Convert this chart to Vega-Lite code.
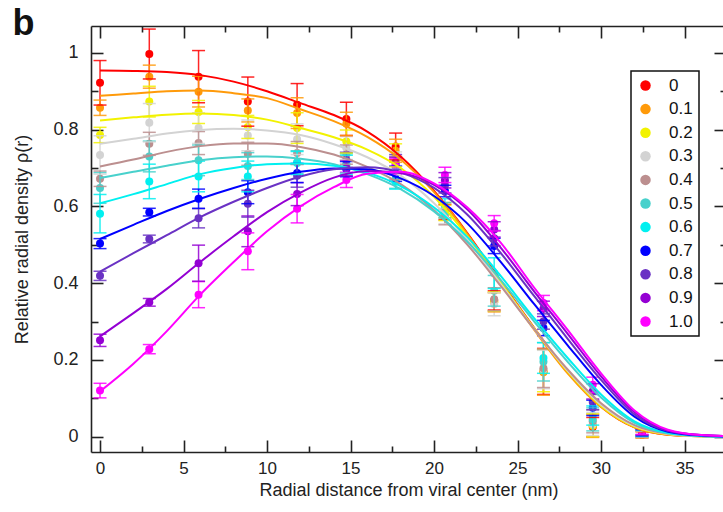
{
  "$schema": "https://vega.github.io/schema/vega-lite/v6.json",
  "width": 632,
  "height": 426,
  "autosize": {"type": "none"},
  "padding": {"left": 91, "top": 26, "right": 0, "bottom": 60},
  "background": "white",
  "datasets": {
    "pts": [
      {"s":"0","r":0,"rho":0.922,"lo":0.864,"hi":0.980},
      {"s":"0","r":2.95,"rho":0.997,"lo":0.932,"hi":1.062},
      {"s":"0","r":5.9,"rho":0.938,"lo":0.870,"hi":1.006},
      {"s":"0","r":8.85,"rho":0.873,"lo":0.809,"hi":0.937},
      {"s":"0","r":11.8,"rho":0.865,"lo":0.810,"hi":0.920},
      {"s":"0","r":14.75,"rho":0.828,"lo":0.785,"hi":0.871},
      {"s":"0","r":17.7,"rho":0.756,"lo":0.721,"hi":0.791},
      {"s":"0","r":20.65,"rho":0.585,"lo":0.565,"hi":0.605},
      {"s":"0","r":23.6,"rho":0.355,"lo":0.330,"hi":0.380},
      {"s":"0","r":26.55,"rho":0.170,"lo":0.110,"hi":0.230},
      {"s":"0","r":29.5,"rho":0.025,"lo":0.000,"hi":0.050},
      {"s":"0","r":32.45,"rho":0.005,"lo":-0.003,"hi":0.013},
      {"s":"0.1","r":0,"rho":0.857,"lo":0.837,"hi":0.877},
      {"s":"0.1","r":2.95,"rho":0.938,"lo":0.908,"hi":0.968},
      {"s":"0.1","r":5.9,"rho":0.899,"lo":0.859,"hi":0.939},
      {"s":"0.1","r":8.85,"rho":0.850,"lo":0.820,"hi":0.880},
      {"s":"0.1","r":11.8,"rho":0.843,"lo":0.803,"hi":0.883},
      {"s":"0.1","r":14.75,"rho":0.815,"lo":0.785,"hi":0.845},
      {"s":"0.1","r":17.7,"rho":0.745,"lo":0.715,"hi":0.775},
      {"s":"0.1","r":20.65,"rho":0.590,"lo":0.570,"hi":0.610},
      {"s":"0.1","r":23.6,"rho":0.350,"lo":0.325,"hi":0.375},
      {"s":"0.1","r":26.55,"rho":0.168,"lo":0.108,"hi":0.228},
      {"s":"0.1","r":29.5,"rho":0.028,"lo":-0.002,"hi":0.058},
      {"s":"0.1","r":32.45,"rho":0.005,"lo":-0.003,"hi":0.013},
      {"s":"0.2","r":0,"rho":0.786,"lo":0.766,"hi":0.806},
      {"s":"0.2","r":2.95,"rho":0.873,"lo":0.833,"hi":0.913},
      {"s":"0.2","r":5.9,"rho":0.846,"lo":0.816,"hi":0.876},
      {"s":"0.2","r":8.85,"rho":0.807,"lo":0.777,"hi":0.837},
      {"s":"0.2","r":11.8,"rho":0.804,"lo":0.764,"hi":0.844},
      {"s":"0.2","r":14.75,"rho":0.769,"lo":0.739,"hi":0.799},
      {"s":"0.2","r":17.7,"rho":0.733,"lo":0.703,"hi":0.763},
      {"s":"0.2","r":20.65,"rho":0.583,"lo":0.563,"hi":0.603},
      {"s":"0.2","r":23.6,"rho":0.352,"lo":0.327,"hi":0.377},
      {"s":"0.2","r":26.55,"rho":0.172,"lo":0.117,"hi":0.227},
      {"s":"0.2","r":29.5,"rho":0.030,"lo":0.000,"hi":0.060},
      {"s":"0.2","r":32.45,"rho":0.006,"lo":-0.002,"hi":0.014},
      {"s":"0.3","r":0,"rho":0.734,"lo":0.684,"hi":0.784},
      {"s":"0.3","r":2.95,"rho":0.818,"lo":0.768,"hi":0.868},
      {"s":"0.3","r":5.9,"rho":0.804,"lo":0.764,"hi":0.844},
      {"s":"0.3","r":8.85,"rho":0.785,"lo":0.745,"hi":0.825},
      {"s":"0.3","r":11.8,"rho":0.775,"lo":0.735,"hi":0.815},
      {"s":"0.3","r":14.75,"rho":0.752,"lo":0.722,"hi":0.782},
      {"s":"0.3","r":17.7,"rho":0.712,"lo":0.682,"hi":0.742},
      {"s":"0.3","r":20.65,"rho":0.575,"lo":0.555,"hi":0.595},
      {"s":"0.3","r":23.6,"rho":0.345,"lo":0.315,"hi":0.375},
      {"s":"0.3","r":26.55,"rho":0.175,"lo":0.125,"hi":0.225},
      {"s":"0.3","r":29.5,"rho":0.033,"lo":0.003,"hi":0.063},
      {"s":"0.3","r":32.45,"rho":0.006,"lo":-0.002,"hi":0.014},
      {"s":"0.4","r":0,"rho":0.672,"lo":0.652,"hi":0.692},
      {"s":"0.4","r":2.95,"rho":0.763,"lo":0.733,"hi":0.793},
      {"s":"0.4","r":5.9,"rho":0.765,"lo":0.735,"hi":0.795},
      {"s":"0.4","r":8.85,"rho":0.737,"lo":0.707,"hi":0.767},
      {"s":"0.4","r":11.8,"rho":0.739,"lo":0.709,"hi":0.769},
      {"s":"0.4","r":14.75,"rho":0.735,"lo":0.710,"hi":0.760},
      {"s":"0.4","r":17.7,"rho":0.700,"lo":0.670,"hi":0.730},
      {"s":"0.4","r":20.65,"rho":0.572,"lo":0.552,"hi":0.592},
      {"s":"0.4","r":23.6,"rho":0.358,"lo":0.328,"hi":0.388},
      {"s":"0.4","r":26.55,"rho":0.178,"lo":0.128,"hi":0.228},
      {"s":"0.4","r":29.5,"rho":0.040,"lo":0.010,"hi":0.070},
      {"s":"0.4","r":32.45,"rho":0.007,"lo":-0.001,"hi":0.015},
      {"s":"0.5","r":0,"rho":0.648,"lo":0.608,"hi":0.688},
      {"s":"0.5","r":2.95,"rho":0.730,"lo":0.690,"hi":0.770},
      {"s":"0.5","r":5.9,"rho":0.720,"lo":0.680,"hi":0.760},
      {"s":"0.5","r":8.85,"rho":0.705,"lo":0.670,"hi":0.740},
      {"s":"0.5","r":11.8,"rho":0.715,"lo":0.685,"hi":0.745},
      {"s":"0.5","r":14.75,"rho":0.712,"lo":0.687,"hi":0.737},
      {"s":"0.5","r":17.7,"rho":0.672,"lo":0.647,"hi":0.697},
      {"s":"0.5","r":20.65,"rho":0.590,"lo":0.570,"hi":0.610},
      {"s":"0.5","r":23.6,"rho":0.380,"lo":0.340,"hi":0.420},
      {"s":"0.5","r":26.55,"rho":0.195,"lo":0.145,"hi":0.245},
      {"s":"0.5","r":29.5,"rho":0.045,"lo":0.015,"hi":0.075},
      {"s":"0.5","r":32.45,"rho":0.008,"lo":0.000,"hi":0.016},
      {"s":"0.6","r":0,"rho":0.581,"lo":0.531,"hi":0.631},
      {"s":"0.6","r":2.95,"rho":0.665,"lo":0.620,"hi":0.710},
      {"s":"0.6","r":5.9,"rho":0.678,"lo":0.638,"hi":0.718},
      {"s":"0.6","r":8.85,"rho":0.678,"lo":0.638,"hi":0.718},
      {"s":"0.6","r":11.8,"rho":0.713,"lo":0.683,"hi":0.743},
      {"s":"0.6","r":14.75,"rho":0.708,"lo":0.683,"hi":0.733},
      {"s":"0.6","r":17.7,"rho":0.665,"lo":0.645,"hi":0.685},
      {"s":"0.6","r":20.65,"rho":0.600,"lo":0.580,"hi":0.620},
      {"s":"0.6","r":23.6,"rho":0.426,"lo":0.386,"hi":0.466},
      {"s":"0.6","r":26.55,"rho":0.205,"lo":0.165,"hi":0.245},
      {"s":"0.6","r":29.5,"rho":0.055,"lo":0.030,"hi":0.080},
      {"s":"0.6","r":32.45,"rho":0.009,"lo":0.001,"hi":0.017},
      {"s":"0.7","r":0,"rho":0.503,"lo":0.490,"hi":0.516},
      {"s":"0.7","r":2.95,"rho":0.585,"lo":0.575,"hi":0.595},
      {"s":"0.7","r":5.9,"rho":0.620,"lo":0.595,"hi":0.645},
      {"s":"0.7","r":8.85,"rho":0.637,"lo":0.607,"hi":0.667},
      {"s":"0.7","r":11.8,"rho":0.687,"lo":0.662,"hi":0.712},
      {"s":"0.7","r":14.75,"rho":0.697,"lo":0.677,"hi":0.717},
      {"s":"0.7","r":17.7,"rho":0.685,"lo":0.665,"hi":0.705},
      {"s":"0.7","r":20.65,"rho":0.640,"lo":0.625,"hi":0.655},
      {"s":"0.7","r":23.6,"rho":0.497,"lo":0.477,"hi":0.517},
      {"s":"0.7","r":26.55,"rho":0.283,"lo":0.263,"hi":0.303},
      {"s":"0.7","r":29.5,"rho":0.075,"lo":0.055,"hi":0.095},
      {"s":"0.7","r":32.45,"rho":0.010,"lo":0.002,"hi":0.018},
      {"s":"0.8","r":0,"rho":0.419,"lo":0.407,"hi":0.431},
      {"s":"0.8","r":2.95,"rho":0.515,"lo":0.505,"hi":0.525},
      {"s":"0.8","r":5.9,"rho":0.569,"lo":0.544,"hi":0.594},
      {"s":"0.8","r":8.85,"rho":0.607,"lo":0.572,"hi":0.642},
      {"s":"0.8","r":11.8,"rho":0.680,"lo":0.650,"hi":0.710},
      {"s":"0.8","r":14.75,"rho":0.721,"lo":0.701,"hi":0.741},
      {"s":"0.8","r":17.7,"rho":0.715,"lo":0.695,"hi":0.735},
      {"s":"0.8","r":20.65,"rho":0.655,"lo":0.635,"hi":0.675},
      {"s":"0.8","r":23.6,"rho":0.517,"lo":0.497,"hi":0.537},
      {"s":"0.8","r":26.55,"rho":0.300,"lo":0.280,"hi":0.320},
      {"s":"0.8","r":29.5,"rho":0.090,"lo":0.070,"hi":0.110},
      {"s":"0.8","r":32.45,"rho":0.012,"lo":0.004,"hi":0.020},
      {"s":"0.9","r":0,"rho":0.251,"lo":0.235,"hi":0.267},
      {"s":"0.9","r":2.95,"rho":0.350,"lo":0.340,"hi":0.360},
      {"s":"0.9","r":5.9,"rho":0.452,"lo":0.405,"hi":0.499},
      {"s":"0.9","r":8.85,"rho":0.535,"lo":0.495,"hi":0.575},
      {"s":"0.9","r":11.8,"rho":0.632,"lo":0.602,"hi":0.662},
      {"s":"0.9","r":14.75,"rho":0.700,"lo":0.680,"hi":0.720},
      {"s":"0.9","r":17.7,"rho":0.708,"lo":0.688,"hi":0.728},
      {"s":"0.9","r":20.65,"rho":0.668,"lo":0.648,"hi":0.688},
      {"s":"0.9","r":23.6,"rho":0.540,"lo":0.520,"hi":0.560},
      {"s":"0.9","r":26.55,"rho":0.333,"lo":0.313,"hi":0.353},
      {"s":"0.9","r":29.5,"rho":0.118,"lo":0.098,"hi":0.138},
      {"s":"0.9","r":32.45,"rho":0.013,"lo":0.005,"hi":0.021},
      {"s":"1.0","r":0,"rho":0.120,"lo":0.101,"hi":0.139},
      {"s":"1.0","r":2.95,"rho":0.228,"lo":0.216,"hi":0.240},
      {"s":"1.0","r":5.9,"rho":0.370,"lo":0.336,"hi":0.404},
      {"s":"1.0","r":8.85,"rho":0.483,"lo":0.435,"hi":0.531},
      {"s":"1.0","r":11.8,"rho":0.594,"lo":0.557,"hi":0.631},
      {"s":"1.0","r":14.75,"rho":0.669,"lo":0.649,"hi":0.689},
      {"s":"1.0","r":17.7,"rho":0.704,"lo":0.684,"hi":0.724},
      {"s":"1.0","r":20.65,"rho":0.682,"lo":0.662,"hi":0.702},
      {"s":"1.0","r":23.6,"rho":0.556,"lo":0.536,"hi":0.576},
      {"s":"1.0","r":26.55,"rho":0.348,"lo":0.328,"hi":0.368},
      {"s":"1.0","r":29.5,"rho":0.135,"lo":0.115,"hi":0.155},
      {"s":"1.0","r":32.45,"rho":0.014,"lo":0.006,"hi":0.022}
    ],
    "fit": [
      {"s":"0","r":0,"f":0.954},{"s":"0","r":2,"f":0.953},{"s":"0","r":4,"f":0.950},{"s":"0","r":6,"f":0.942},{"s":"0","r":8,"f":0.925},{"s":"0","r":10,"f":0.900},{"s":"0","r":12,"f":0.869},{"s":"0","r":14,"f":0.838},{"s":"0","r":16,"f":0.795},{"s":"0","r":18,"f":0.730},{"s":"0","r":20,"f":0.640},{"s":"0","r":22,"f":0.530},{"s":"0","r":24,"f":0.405},{"s":"0","r":26,"f":0.283},{"s":"0","r":28,"f":0.168},{"s":"0","r":30,"f":0.078},{"s":"0","r":32,"f":0.024},{"s":"0","r":34,"f":0.005},{"s":"0","r":36,"f":0.001},{"s":"0","r":38,"f":0.0},
      {"s":"0.1","r":0,"f":0.888},{"s":"0.1","r":2,"f":0.894},{"s":"0.1","r":4,"f":0.900},{"s":"0.1","r":6,"f":0.902},{"s":"0.1","r":8,"f":0.895},{"s":"0.1","r":10,"f":0.882},{"s":"0.1","r":12,"f":0.853},{"s":"0.1","r":14,"f":0.822},{"s":"0.1","r":16,"f":0.781},{"s":"0.1","r":18,"f":0.722},{"s":"0.1","r":20,"f":0.637},{"s":"0.1","r":22,"f":0.528},{"s":"0.1","r":24,"f":0.400},{"s":"0.1","r":26,"f":0.278},{"s":"0.1","r":28,"f":0.165},{"s":"0.1","r":30,"f":0.077},{"s":"0.1","r":32,"f":0.024},{"s":"0.1","r":34,"f":0.005},{"s":"0.1","r":36,"f":0.001},{"s":"0.1","r":38,"f":0.0},
      {"s":"0.2","r":0,"f":0.824},{"s":"0.2","r":2,"f":0.832},{"s":"0.2","r":4,"f":0.839},{"s":"0.2","r":6,"f":0.842},{"s":"0.2","r":8,"f":0.838},{"s":"0.2","r":10,"f":0.826},{"s":"0.2","r":12,"f":0.804},{"s":"0.2","r":14,"f":0.780},{"s":"0.2","r":16,"f":0.748},{"s":"0.2","r":18,"f":0.700},{"s":"0.2","r":20,"f":0.625},{"s":"0.2","r":22,"f":0.522},{"s":"0.2","r":24,"f":0.402},{"s":"0.2","r":26,"f":0.282},{"s":"0.2","r":28,"f":0.170},{"s":"0.2","r":30,"f":0.080},{"s":"0.2","r":32,"f":0.026},{"s":"0.2","r":34,"f":0.006},{"s":"0.2","r":36,"f":0.001},{"s":"0.2","r":38,"f":0.0},
      {"s":"0.3","r":0,"f":0.763},{"s":"0.3","r":2,"f":0.776},{"s":"0.3","r":4,"f":0.790},{"s":"0.3","r":6,"f":0.799},{"s":"0.3","r":8,"f":0.802},{"s":"0.3","r":10,"f":0.798},{"s":"0.3","r":12,"f":0.786},{"s":"0.3","r":14,"f":0.762},{"s":"0.3","r":16,"f":0.728},{"s":"0.3","r":18,"f":0.680},{"s":"0.3","r":20,"f":0.608},{"s":"0.3","r":22,"f":0.512},{"s":"0.3","r":24,"f":0.397},{"s":"0.3","r":26,"f":0.280},{"s":"0.3","r":28,"f":0.172},{"s":"0.3","r":30,"f":0.083},{"s":"0.3","r":32,"f":0.028},{"s":"0.3","r":34,"f":0.007},{"s":"0.3","r":36,"f":0.001},{"s":"0.3","r":38,"f":0.0},
      {"s":"0.4","r":0,"f":0.704},{"s":"0.4","r":2,"f":0.722},{"s":"0.4","r":4,"f":0.742},{"s":"0.4","r":6,"f":0.757},{"s":"0.4","r":8,"f":0.764},{"s":"0.4","r":10,"f":0.764},{"s":"0.4","r":12,"f":0.755},{"s":"0.4","r":14,"f":0.735},{"s":"0.4","r":16,"f":0.703},{"s":"0.4","r":18,"f":0.658},{"s":"0.4","r":20,"f":0.590},{"s":"0.4","r":22,"f":0.500},{"s":"0.4","r":24,"f":0.392},{"s":"0.4","r":26,"f":0.280},{"s":"0.4","r":28,"f":0.175},{"s":"0.4","r":30,"f":0.087},{"s":"0.4","r":32,"f":0.030},{"s":"0.4","r":34,"f":0.008},{"s":"0.4","r":36,"f":0.002},{"s":"0.4","r":38,"f":0.0},
      {"s":"0.5","r":0,"f":0.674},{"s":"0.5","r":2,"f":0.690},{"s":"0.5","r":4,"f":0.706},{"s":"0.5","r":6,"f":0.720},{"s":"0.5","r":8,"f":0.728},{"s":"0.5","r":10,"f":0.730},{"s":"0.5","r":12,"f":0.724},{"s":"0.5","r":14,"f":0.710},{"s":"0.5","r":16,"f":0.684},{"s":"0.5","r":18,"f":0.645},{"s":"0.5","r":20,"f":0.587},{"s":"0.5","r":22,"f":0.508},{"s":"0.5","r":24,"f":0.408},{"s":"0.5","r":26,"f":0.300},{"s":"0.5","r":28,"f":0.195},{"s":"0.5","r":30,"f":0.102},{"s":"0.5","r":32,"f":0.036},{"s":"0.5","r":34,"f":0.009},{"s":"0.5","r":36,"f":0.002},{"s":"0.5","r":38,"f":0.0},
      {"s":"0.6","r":0,"f":0.608},{"s":"0.6","r":2,"f":0.632},{"s":"0.6","r":4,"f":0.658},{"s":"0.6","r":6,"f":0.684},{"s":"0.6","r":8,"f":0.700},{"s":"0.6","r":10,"f":0.710},{"s":"0.6","r":12,"f":0.712},{"s":"0.6","r":14,"f":0.706},{"s":"0.6","r":16,"f":0.688},{"s":"0.6","r":18,"f":0.653},{"s":"0.6","r":20,"f":0.597},{"s":"0.6","r":22,"f":0.520},{"s":"0.6","r":24,"f":0.418},{"s":"0.6","r":26,"f":0.308},{"s":"0.6","r":28,"f":0.205},{"s":"0.6","r":30,"f":0.110},{"s":"0.6","r":32,"f":0.040},{"s":"0.6","r":34,"f":0.010},{"s":"0.6","r":36,"f":0.002},{"s":"0.6","r":38,"f":0.0},
      {"s":"0.7","r":0,"f":0.515},{"s":"0.7","r":2,"f":0.552},{"s":"0.7","r":4,"f":0.588},{"s":"0.7","r":6,"f":0.620},{"s":"0.7","r":8,"f":0.648},{"s":"0.7","r":10,"f":0.672},{"s":"0.7","r":12,"f":0.690},{"s":"0.7","r":14,"f":0.699},{"s":"0.7","r":16,"f":0.697},{"s":"0.7","r":18,"f":0.673},{"s":"0.7","r":20,"f":0.627},{"s":"0.7","r":22,"f":0.555},{"s":"0.7","r":24,"f":0.455},{"s":"0.7","r":26,"f":0.345},{"s":"0.7","r":28,"f":0.238},{"s":"0.7","r":30,"f":0.135},{"s":"0.7","r":32,"f":0.052},{"s":"0.7","r":34,"f":0.013},{"s":"0.7","r":36,"f":0.003},{"s":"0.7","r":38,"f":0.0},
      {"s":"0.8","r":0,"f":0.430},{"s":"0.8","r":2,"f":0.478},{"s":"0.8","r":4,"f":0.525},{"s":"0.8","r":6,"f":0.572},{"s":"0.8","r":8,"f":0.612},{"s":"0.8","r":10,"f":0.648},{"s":"0.8","r":12,"f":0.678},{"s":"0.8","r":14,"f":0.697},{"s":"0.8","r":16,"f":0.702},{"s":"0.8","r":18,"f":0.688},{"s":"0.8","r":20,"f":0.648},{"s":"0.8","r":22,"f":0.578},{"s":"0.8","r":24,"f":0.478},{"s":"0.8","r":26,"f":0.366},{"s":"0.8","r":28,"f":0.255},{"s":"0.8","r":30,"f":0.148},{"s":"0.8","r":32,"f":0.058},{"s":"0.8","r":34,"f":0.015},{"s":"0.8","r":36,"f":0.004},{"s":"0.8","r":38,"f":0.001},
      {"s":"0.9","r":0,"f":0.261},{"s":"0.9","r":2,"f":0.322},{"s":"0.9","r":4,"f":0.385},{"s":"0.9","r":6,"f":0.455},{"s":"0.9","r":8,"f":0.522},{"s":"0.9","r":10,"f":0.585},{"s":"0.9","r":12,"f":0.636},{"s":"0.9","r":14,"f":0.675},{"s":"0.9","r":16,"f":0.692},{"s":"0.9","r":18,"f":0.687},{"s":"0.9","r":20,"f":0.656},{"s":"0.9","r":22,"f":0.592},{"s":"0.9","r":24,"f":0.492},{"s":"0.9","r":26,"f":0.378},{"s":"0.9","r":28,"f":0.268},{"s":"0.9","r":30,"f":0.157},{"s":"0.9","r":32,"f":0.064},{"s":"0.9","r":34,"f":0.016},{"s":"0.9","r":36,"f":0.004},{"s":"0.9","r":38,"f":0.001},
      {"s":"1.0","r":0,"f":0.118},{"s":"1.0","r":2,"f":0.190},{"s":"1.0","r":4,"f":0.275},{"s":"1.0","r":6,"f":0.370},{"s":"1.0","r":8,"f":0.455},{"s":"1.0","r":10,"f":0.535},{"s":"1.0","r":12,"f":0.600},{"s":"1.0","r":14,"f":0.650},{"s":"1.0","r":16,"f":0.685},{"s":"1.0","r":18,"f":0.690},{"s":"1.0","r":20,"f":0.660},{"s":"1.0","r":22,"f":0.597},{"s":"1.0","r":24,"f":0.505},{"s":"1.0","r":26,"f":0.388},{"s":"1.0","r":28,"f":0.278},{"s":"1.0","r":30,"f":0.165},{"s":"1.0","r":32,"f":0.068},{"s":"1.0","r":34,"f":0.018},{"s":"1.0","r":36,"f":0.004},{"s":"1.0","r":38,"f":0.001}
    ]
  },
  "layer": [
    {
      "data": {"name": "pts"},
      "mark": {"type": "circle", "size": 64, "opacity": 1},
      "encoding": {
        "x": {"field": "r", "type": "quantitative", "scale": {"domain": [-0.54, 37.3], "nice": false, "zero": false},
          "axis": {"orient": "bottom", "values": [0,5,10,15,20,25,30,35], "tickSize": -12, "labelPadding": 33.5, "labelBaseline": "alphabetic", "labelFlush": false, "labelFontSize": 17, "format": "~g", "title": "Radial distance from viral center (nm)", "titleX": 317.5, "titleY": 43, "titleBaseline": "alphabetic"}},
        "y": {"field": "rho", "type": "quantitative", "scale": {"domain": [-0.04, 1.07], "nice": false, "zero": false},
          "axis": {"orient": "left", "values": [0,0.2,0.4,0.6,0.8,1], "tickSize": -12, "labelPadding": 25, "labelFlush": false, "labelFontSize": 18, "format": "~g", "title": "Relative radial density ρ(r)", "titleX": -69, "titleY": 213, "titleBaseline": "middle", "titleAlign": "center"}},
        "color": {"field": "s", "type": "nominal",
          "scale": {"domain": ["0","0.1","0.2","0.3","0.4","0.5","0.6","0.7","0.8","0.9","1.0"],
                    "range": ["#ff0000","#ff9a0a","#f2f200","#d3d3d3","#bc8f8f","#48d1cc","#00f0f0","#0000ff","#6a32c4","#9400d3","#ff00ff"]},
          "legend": {"orient": "none", "legendX": 540, "legendY": 45, "title": null, "symbolType": "circle", "labelExpr": "datum.label + '\u2009'"}}
      }
    },
    {
      "data": {"name": "pts"},
      "mark": {"type": "rule", "strokeWidth": 1.5, "opacity": 0.85},
      "encoding": {
        "x": {"field": "r", "type": "quantitative", "axis": {"orient": "bottom", "values": [2.5,7.5,12.5,17.5,22.5,27.5,32.5], "tickSize": -6, "labels": false, "domain": false, "title": null}},
        "y": {"field": "lo", "type": "quantitative", "axis": {"orient": "left", "values": [0.1,0.3,0.5,0.7,0.9], "tickSize": -7, "labels": false, "domain": false,
          "title": "b", "titleAngle": 0, "titleX": -79, "titleY": 8, "titleAlign": "left", "titleBaseline": "alphabetic", "titleFontSize": 36, "titleFontWeight": "bold", "titleColor": "#111111"}},
        "y2": {"field": "hi"},
        "color": {"field": "s", "type": "nominal"}
      }
    },
    {
      "data": {"name": "pts"},
      "mark": {"type": "tick", "orient": "horizontal", "size": 13, "thickness": 1.5, "opacity": 0.85},
      "encoding": {
        "x": {"field": "r", "type": "quantitative", "axis": {"orient": "top", "values": [0,5,10,15,20,25,30,35], "tickSize": -12, "labels": false, "domain": true, "title": null}},
        "y": {"field": "hi", "type": "quantitative", "axis": {"orient": "right", "values": [0,0.2,0.4,0.6,0.8,1], "tickSize": -9, "labels": false, "domain": false, "title": null}},
        "color": {"field": "s", "type": "nominal"}
      }
    },
    {
      "data": {"name": "pts"},
      "mark": {"type": "tick", "orient": "horizontal", "size": 13, "thickness": 1.5, "opacity": 0.85},
      "encoding": {
        "x": {"field": "r", "type": "quantitative", "axis": {"orient": "top", "values": [2.5,7.5,12.5,17.5,22.5,27.5,32.5], "tickSize": -6, "labels": false, "domain": false, "title": null}},
        "y": {"field": "lo", "type": "quantitative", "axis": {"orient": "right", "values": [0.1,0.3,0.5,0.7,0.9], "tickSize": -3, "labels": false, "domain": false, "title": null}},
        "color": {"field": "s", "type": "nominal"}
      }
    },
    {
      "data": {"name": "fit"},
      "mark": {"type": "line", "strokeWidth": 2, "interpolate": "monotone", "clip": true},
      "encoding": {
        "x": {"field": "r", "type": "quantitative", "axis": null},
        "y": {"field": "f", "type": "quantitative", "axis": null},
        "color": {"field": "s", "type": "nominal"}
      }
    }
  ],
  "resolve": {"axis": {"x": "independent", "y": "independent"}},
  "config": {
    "view": {"stroke": null},
    "font": "Liberation Sans",
    "axis": {"grid": false, "domainColor": "#222222", "domainWidth": 1.6, "tickColor": "#222222", "tickWidth": 1.6,
      "labelFont": "Liberation Sans", "labelFontSize": 16, "labelColor": "#222222",
      "titleFont": "Liberation Sans", "titleFontSize": 18, "titleFontWeight": "normal", "titleColor": "#222222"},
    "legend": {"strokeColor": "#111111", "strokeWidth": 1.5, "fillColor": "white", "padding": 6, "symbolType": "circle", "symbolSize": 110,
      "symbolStrokeWidth": 0, "labelFont": "Liberation Sans", "labelFontSize": 17, "labelColor": "#111111", "labelOffset": 15, "rowPadding": 5.6, "labelBaseline": "middle"}
  }
}
